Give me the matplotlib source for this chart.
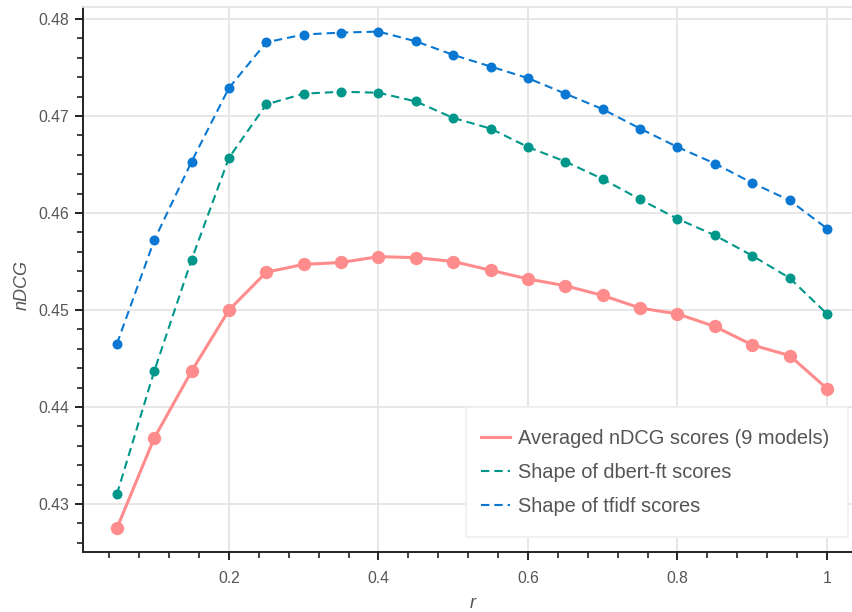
import matplotlib
matplotlib.use("Agg")
import matplotlib.pyplot as plt
from matplotlib.lines import Line2D
from matplotlib.patches import Rectangle
from matplotlib.ticker import MultipleLocator, FuncFormatter

plt.rcParams['font.family'] = ['Liberation Sans', 'DejaVu Sans']
plt.rcParams['lines.scale_dashes'] = False

r = [0.05, 0.10, 0.15, 0.20, 0.25, 0.30, 0.35, 0.40, 0.45, 0.50,
     0.55, 0.60, 0.65, 0.70, 0.75, 0.80, 0.85, 0.90, 0.95, 1.00]
avg_ndcg = [0.4275, 0.4368, 0.4437, 0.4500, 0.4539, 0.4547, 0.4549, 0.4555, 0.4554, 0.4550,
            0.4541, 0.4532, 0.4525, 0.4515, 0.4502, 0.4496, 0.4483, 0.4464, 0.4453, 0.4419]
dbert_ft = [0.4310, 0.4437, 0.4552, 0.4657, 0.4712, 0.4723, 0.4725, 0.4724, 0.4715, 0.4698,
            0.4687, 0.4668, 0.4653, 0.4635, 0.4614, 0.4594, 0.4577, 0.4556, 0.4533, 0.4496]
tfidf = [0.4465, 0.4572, 0.4653, 0.4729, 0.4776, 0.4784, 0.4786, 0.4787, 0.4777, 0.4763,
         0.4751, 0.4739, 0.4723, 0.4707, 0.4687, 0.4668, 0.4651, 0.4631, 0.4613, 0.4584]
labels = ["Averaged nDCG scores (9 models)", "Shape of dbert-ft scores", "Shape of tfidf scores"]

RED = "#ff8c8c"
TEAL = "#00968a"
BLUE = "#0a78d2"
TXT = "#555555"

W, H = 853, 612
fig = plt.figure(figsize=(W / 100, H / 100), dpi=100)
left, right, top, bottom = 83, 863, 7, 552
ax = fig.add_axes([left / W, 1 - bottom / H, (right - left) / W, (bottom - top) / H])

ax.set_xlim((left - 79.5) / 747.5, (right - 79.5) / 747.5)
ax.set_ylim(0.48 - (bottom - 19) / 9700, 0.48 + (19 - top) / 9700)

ax.plot(r, tfidf, color=BLUE, lw=1.5, dashes=(6, 3.6), marker='o', ms=7.2,
        markeredgewidth=0, zorder=3)
ax.plot(r, dbert_ft, color=TEAL, lw=1.5, dashes=(6, 3.6), marker='o', ms=7.2,
        markeredgewidth=0, zorder=3)
ax.plot(r, avg_ndcg, color=RED, lw=2.2, marker='o', ms=9.6,
        markeredgewidth=0, zorder=4)

ax.xaxis.set_major_locator(MultipleLocator(0.2))
ax.xaxis.set_minor_locator(MultipleLocator(0.04))
ax.yaxis.set_major_locator(MultipleLocator(0.01))
ax.yaxis.set_minor_locator(MultipleLocator(0.002))

def fmt(v, pos):
    s = f"{v:.2f}".rstrip('0').rstrip('.')
    return s
ax.xaxis.set_major_formatter(FuncFormatter(fmt))
ax.yaxis.set_major_formatter(FuncFormatter(fmt))

ax.grid(True, which='major', color='#e5e5e5', lw=1.3)
ax.set_axisbelow(True)
for s in ['top', 'right']:
    ax.spines[s].set_color('#e5e5e5')
    ax.spines[s].set_linewidth(1.3)
for s in ['left', 'bottom']:
    ax.spines[s].set_color('#222222')
    ax.spines[s].set_linewidth(1.4)

ax.tick_params(which='major', direction='out', length=6, width=1.4, color='#222222',
               labelsize=11.3, labelcolor=TXT, pad=4)
ax.tick_params(which='minor', direction='out', length=4, width=1.2, color='#222222')
ax.tick_params(axis='x', which='major', pad=8)

ax.set_xlabel("r", fontsize=13, style='italic', color=TXT, labelpad=4)
ax.set_ylabel("nDCG", fontsize=13, style='italic', color=TXT, labelpad=8)
ax.xaxis.set_label_coords((473 - left) / (right - left), -(603 - bottom) / (bottom - top))
ax.yaxis.set_label_coords(-(83 - 22) / (right - left), (bottom - 285) / (bottom - top))
ax.xaxis.label.set_verticalalignment('center')
ax.yaxis.label.set_verticalalignment('center')

# legend frame (drawn separately so padding can differ horizontally/vertically)
fig.patches.append(Rectangle((466 / W, 1 - 537 / H), (848 - 466) / W, (537 - 407) / H,
                             transform=fig.transFigure, facecolor='white', alpha=0.95,
                             edgecolor='#eeeeee', linewidth=1.2, zorder=5))

handles = [Line2D([], [], color=RED, lw=2.2),
           Line2D([], [], color=TEAL, lw=1.5, dashes=(6, 3.6)),
           Line2D([], [], color=BLUE, lw=1.5, dashes=(6, 3.6))]
leg = fig.legend(handles, labels, loc='upper left',
                 bbox_to_anchor=(481 / W, 1 - 429 / H), bbox_transform=fig.transFigure,
                 fontsize=14.4, frameon=False, handlelength=1.45, handletextpad=0.4,
                 labelspacing=0.75, borderpad=0, borderaxespad=0)
leg.set_zorder(6)
for t in leg.get_texts():
    t.set_color(TXT)

fig.savefig("out.png", dpi=100)
